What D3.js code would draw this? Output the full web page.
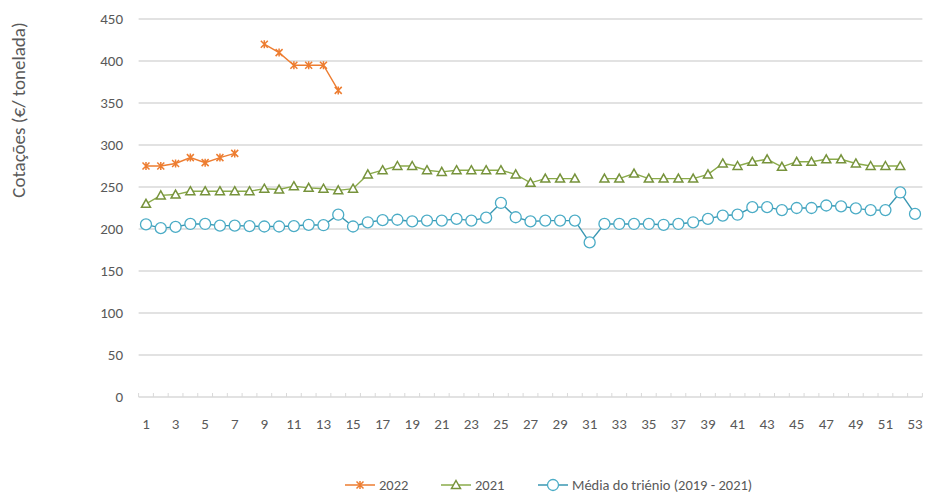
<!DOCTYPE html>
<html>
<head>
<meta charset="utf-8">
<script src="https://cdn.jsdelivr.net/npm/d3@7"></script>
<style>
  body { margin: 0; background: #fff; }
  text { font-family: Calibri, Carlito, Lato, "Open Sans", sans-serif; fill: #595959; }
</style>
</head>
<body>
<div id="chart"></div>
<script>
(function(){
    var width = 928;
    var height = 493;

    // semanas 1..53
    var weeks = d3.range(1, 54);
    var yTicks = [0, 50, 100, 150, 200, 250, 300, 350, 400, 450];

    // null = sem cotação
    var s2022 = [275, 275, 278, 285, 279, 285, 290, null, 420, 410, 395, 395, 395, 365];
    var s2021 = [230, 240, 241, 245, 245, 245, 245, 245, 248, 247, 251, 249, 248, 246, 248,
                 265, 270, 275, 275, 270, 268, 270, 270, 270, 270, 265, 255, 260, 260, 260,
                 null, 260, 260, 266, 260, 260, 260, 260, 265, 278, 275, 280, 283, 274, 280,
                 280, 283, 283, 278, 275, 275, 275];
    var sMedia = [205.5, 201, 202.5, 206, 206, 204, 204, 203.5, 203, 203, 203.5, 205, 204.5, 217, 203,
                  208, 210.5, 211, 209, 210, 210, 212, 210, 213.5, 231, 214, 209, 210, 210, 210,
                  184, 206, 206, 206, 206, 205, 206, 208, 212, 216, 217, 226, 226, 222.5, 225,
                  225, 228, 227, 224.5, 222.5, 222.5, 243.5, 218];

    var series = [
      {name: "2022", values: s2022, color: "#ED7D31", line: "#ED7D31", marker: "star"},
      {name: "2021", values: s2021, color: "#77933C", line: "#8AAB4A", marker: "triangle"},
      {name: "Média do triénio (2019 - 2021)", values: sMedia, color: "#4BACC6", line: "#3A97B2", marker: "circle"}
    ];

    var svg = d3.select("#chart")
      .append("svg")
      .attr("width", width)
      .attr("height", height);

    var x = d3.scaleLinear().domain([0.5, 53.5]).range([138.6, 922.4]);
    var y = d3.scaleLinear().domain([0, 450]).range([397, 19]);

    // grelha
    svg.append("g")
      .selectAll("line")
      .data(yTicks.filter(function(d){ return d > 0; }))
      .enter().append("line")
      .attr("x1", x(0.5)).attr("x2", x(53.5))
      .attr("y1", function(d){ return y(d); })
      .attr("y2", function(d){ return y(d); })
      .attr("stroke", "#D9D9D9")
      .attr("stroke-width", 1.3);

    // eixo x
    svg.append("line")
      .attr("x1", x(0.5)).attr("x2", x(53.5))
      .attr("y1", y(0)).attr("y2", y(0))
      .attr("stroke", "#D9D9D9").attr("stroke-width", 1.3);

    svg.append("g")
      .selectAll("line")
      .data(d3.range(0, 54))
      .enter().append("line")
      .attr("x1", function(d){ return x(d + 0.5); })
      .attr("x2", function(d){ return x(d + 0.5); })
      .attr("y1", y(0)).attr("y2", y(0) - 4)
      .attr("stroke", "#D9D9D9");

    svg.append("g")
      .selectAll("text")
      .data(weeks.filter(function(d){ return d % 2 == 1; }))
      .enter().append("text")
      .attr("x", function(d){ return x(d); })
      .attr("y", 429)
      .attr("text-anchor", "middle")
      .style("font-size", "15px")
      .text(function(d){ return d; });

    // eixo y
    svg.append("g")
      .selectAll("text")
      .data(yTicks)
      .enter().append("text")
      .attr("x", 123)
      .attr("y", function(d){ return y(d) + 5; })
      .attr("text-anchor", "end")
      .style("font-size", "15px")
      .text(function(d){ return d; });

    svg.append("text")
      .attr("transform", "translate(25,110) rotate(-90)")
      .attr("text-anchor", "middle")
      .style("font-size", "19px")
      .text("Cotações (€/ tonelada)");

    var line = d3.line()
      .defined(function(d){ return d.v != null; })
      .x(function(d){ return x(d.w); })
      .y(function(d){ return y(d.v); });

    function drawMarker(g, type, color) {
      if (type == "circle") {
        g.append("circle").attr("r", 5.5)
          .attr("fill", "#fff").attr("stroke", color).attr("stroke-width", 1.3);
      } else if (type == "triangle") {
        g.append("path").attr("d", "M0,-4.5L4.5,3.5L-4.5,3.5Z")
          .attr("fill", "#fff").attr("stroke", color).attr("stroke-width", 1.5);
      } else {
        g.append("path").attr("d", "M-3.5,-3.5L3.5,3.5M-3.5,3.5L3.5,-3.5M0,-4L0,4")
          .attr("stroke", color).attr("stroke-width", 1.5);
      }
    }

    series.forEach(function(s){
      var pts = s.values.map(function(v, i){ return {w: i + 1, v: v}; });
      svg.append("path")
        .attr("d", line(pts))
        .attr("fill", "none")
        .attr("stroke", s.line)
        .attr("stroke-width", 1.4);

      svg.append("g")
        .selectAll("g")
        .data(pts.filter(function(d){ return d.v != null; }))
        .enter().append("g")
        .attr("transform", function(d){ return "translate(" + x(d.w) + "," + y(d.v) + ")"; })
        .each(function(){ drawMarker(d3.select(this), s.marker, s.color); });
    });

    // legenda
    var legX = [345, 441, 538];
    var leg = svg.append("g");
    series.forEach(function(s, i){
      var g = leg.append("g").attr("transform", "translate(" + legX[i] + ",485)");
      g.append("line").attr("x1", 0).attr("x2", 30).attr("stroke", s.line).attr("stroke-width", 1.5);
      var m = g.append("g").attr("transform", "translate(15,0)");
      drawMarker(m, s.marker, s.color);
      g.append("text").attr("x", 34).attr("y", 5).style("font-size", "14.5px").text(s.name);
    });
})();
</script>
</body>
</html>
